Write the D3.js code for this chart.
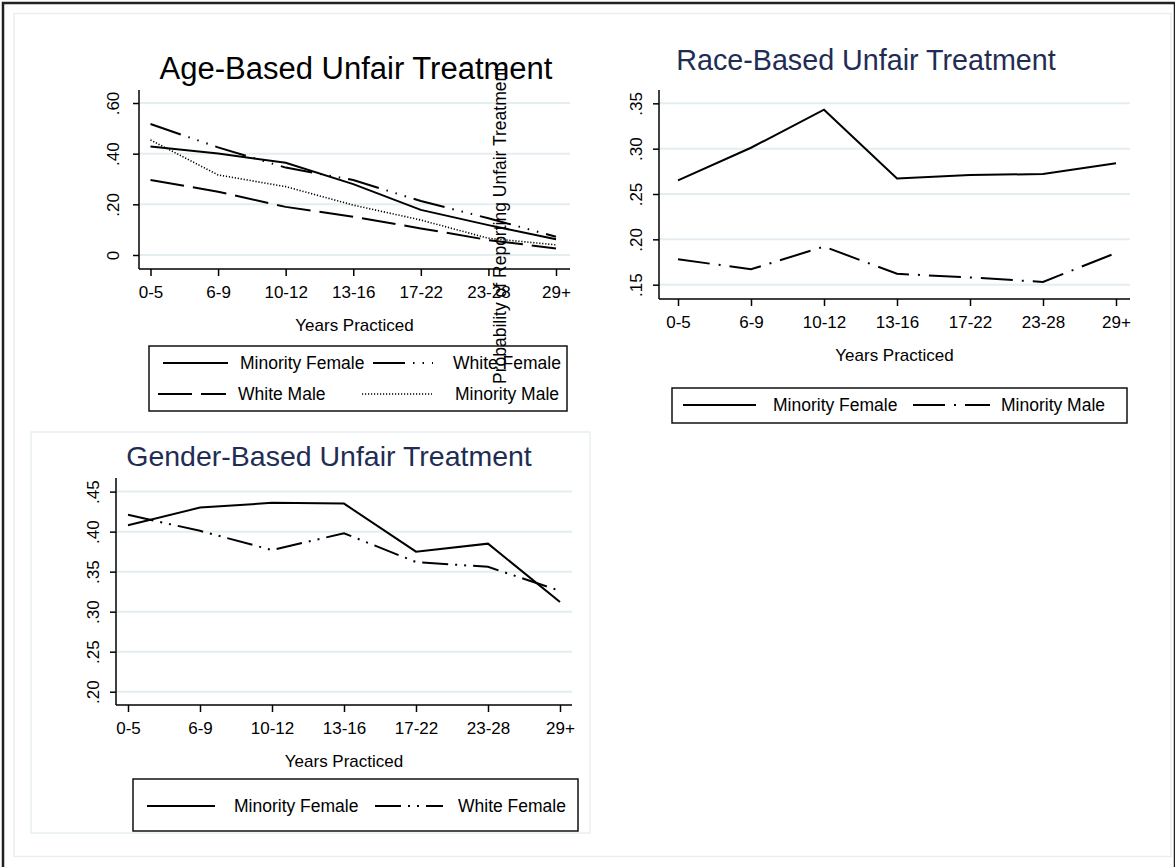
<!DOCTYPE html>
<html>
<head>
<meta charset="utf-8">
<script src="https://cdn.jsdelivr.net/npm/d3@7"></script>
<style>
  body { margin: 0; background: #fff; }
  svg { display: block; }
</style>
</head>
<body>
<div id="chart"></div>
<script>
// categories / tick labels
const years = ['0-5', '6-9', '10-12', '13-16', '17-22', '23-28', '29+'];

// age-based series
const ageMinorityFemale = [0.428, 0.401, 0.364, 0.280, 0.178, 0.118, 0.062];
const ageWhiteFemale    = [0.517, 0.425, 0.345, 0.296, 0.213, 0.145, 0.072];
const ageWhiteMale      = [0.296, 0.250, 0.190, 0.151, 0.105, 0.059, 0.026];
const ageMinorityMale   = [0.454, 0.316, 0.270, 0.197, 0.138, 0.066, 0.040];
const ageTicks = [0, 0.2, 0.4, 0.6];
const ageTickLabels = ['0', '.20', '.40', '.60'];

// race-based series
const raceMinorityFemale = [0.265, 0.301, 0.343, 0.267, 0.271, 0.272, 0.284];
const raceMinorityMale   = [0.178, 0.167, 0.192, 0.162, 0.158, 0.153, 0.185];
const raceTicks = [0.15, 0.20, 0.25, 0.30, 0.35];
const raceTickLabels = ['.15', '.20', '.25', '.30', '.35'];

// gender-based series
const genderMinorityFemale = [0.408, 0.430, 0.436, 0.435, 0.375, 0.385, 0.312];
const genderWhiteFemale    = [0.421, 0.401, 0.377, 0.398, 0.362, 0.356, 0.326];
const genderTicks = [0.20, 0.25, 0.30, 0.35, 0.40, 0.45];
const genderTickLabels = ['.20', '.25', '.30', '.35', '.40', '.45'];

const width = 1175;
const height = 867;
const fontFamily = '"Liberation Sans", Arial, Helvetica, sans-serif';
const gridColor = '#e4edf0';
const navy = '#1f2d55';
const lineColor = '#000';

const dashes = {
  solid: null,
  longdash: '34,9',
  longdashdot: '32,9,2,9',
  longdash3dot: '32,8,1.5,8,1.5,8,1.5,8',
  dot: '1.2,1.8',
  dashdotdot: '26,7,2,7,2,7'
};

const svg = d3.select('#chart')
  .append('svg')
    .attr('width', width)
    .attr('height', height);

// outer frame
svg.append('rect')
  .attr('x', 3).attr('y', 3)
  .attr('width', 1172).attr('height', 880)
  .attr('fill', 'none')
  .attr('stroke', '#222')
  .attr('stroke-width', 2.5);

svg.append('rect')
  .attr('x', 14).attr('y', 13.5)
  .attr('width', 1157).attr('height', 843)
  .attr('fill', 'none')
  .attr('stroke', '#e8eff1')
  .attr('stroke-width', 1.5);

// gender sub-panel frame
svg.append('rect')
  .attr('x', 31).attr('y', 432)
  .attr('width', 559).attr('height', 401)
  .attr('fill', 'none')
  .attr('stroke', '#e8eff1')
  .attr('stroke-width', 1.5);

const drawPanel = (cfg) => {
  const x = d3.scalePoint().domain(years).range(cfg.xRange);
  const y = d3.scaleLinear().domain(cfg.yDomain).range([cfg.bottom, cfg.top]);
  const g = svg.append('g');

  // grid
  g.selectAll('.grid')
    .data(cfg.ticks)
    .join('line')
      .attr('x1', cfg.left).attr('x2', cfg.right)
      .attr('y1', d => y(d)).attr('y2', d => y(d))
      .attr('stroke', gridColor)
      .attr('stroke-width', 2);

  // y axis
  const yAxis = g.append('g')
    .attr('transform', `translate(${cfg.left},0)`)
    .call(d3.axisLeft(y).tickValues(cfg.ticks).tickSize(6).tickPadding(0)
      .tickFormat((d, i) => cfg.tickLabels[i]));
  yAxis.select('.domain').attr('d', `M0,${cfg.top}V${cfg.bottom}`).attr('stroke-width', 1.5);
  yAxis.selectAll('.tick line').attr('stroke-width', 1.5);
  yAxis.selectAll('.tick text')
    .attr('x', 0).attr('dy', 0)
    .attr('transform', `translate(${cfg.yLabelOffset},0) rotate(-90)`)
    .attr('text-anchor', 'middle')
    .style('font', `17px ${fontFamily}`)
    .attr('fill', '#000');

  // x axis
  const xAxis = g.append('g')
    .attr('transform', `translate(0,${cfg.bottom})`)
    .call(d3.axisBottom(x).tickSize(7).tickPadding(0));
  xAxis.select('.domain').attr('d', `M${cfg.left},0H${cfg.right}`).attr('stroke-width', 1.5);
  xAxis.selectAll('.tick line').attr('stroke-width', 1.5);
  xAxis.selectAll('.tick text')
    .attr('y', 29).attr('dy', 0)
    .style('font', `17px ${fontFamily}`)
    .attr('fill', '#000');

  g.append('text')
    .attr('x', (cfg.left + cfg.right) / 2)
    .attr('y', cfg.bottom + 62)
    .attr('text-anchor', 'middle')
    .style('font', `17px ${fontFamily}`)
    .text('Years Practiced');

  // title
  g.append('text')
    .attr('x', cfg.titleX)
    .attr('y', cfg.titleY)
    .attr('text-anchor', 'middle')
    .style('font', `${cfg.titleSize}px ${fontFamily}`)
    .attr('fill', cfg.titleColor)
    .text(cfg.title);

  // series
  const line = d3.line()
    .x((d, i) => x(years[i]))
    .y(d => y(d));

  cfg.series.forEach(s => {
    g.append('path')
      .datum(s.values)
      .attr('d', line)
      .attr('fill', 'none')
      .attr('stroke', lineColor)
      .attr('stroke-width', s.dash === 'dot' ? 1.6 : 2)
      .attr('stroke-dasharray', dashes[s.dash]);
  });

  // legend
  const lb = cfg.legend.box;
  g.append('rect')
    .attr('x', lb[0]).attr('y', lb[1])
    .attr('width', lb[2] - lb[0]).attr('height', lb[3] - lb[1])
    .attr('fill', '#fff')
    .attr('stroke', '#111')
    .attr('stroke-width', 1.5);

  cfg.legend.items.forEach((it, i) => {
    const s = cfg.series[i];
    g.append('line')
      .attr('x1', it.x1).attr('x2', it.x2)
      .attr('y1', it.y).attr('y2', it.y)
      .attr('stroke', lineColor)
      .attr('stroke-width', s.dash === 'dot' ? 1.6 : 2)
      .attr('stroke-dasharray', dashes[s.dash]);
    g.append('text')
      .attr('x', it.tx)
      .attr('y', it.y + 6)
      .style('font', `17.5px ${fontFamily}`)
      .text(s.name);
  });
};

// Age panel
drawPanel({
  title: 'Age-Based Unfair Treatment',
  titleX: 356, titleY: 79, titleSize: 31, titleColor: '#000',
  left: 139, right: 570, top: 90, bottom: 269,
  xRange: [150.5, 556],
  yDomain: [-0.0553, 0.6514],
  ticks: ageTicks, tickLabels: ageTickLabels, yLabelOffset: -20,
  series: [
    {name: 'Minority Female', values: ageMinorityFemale, dash: 'solid'},
    {name: 'White Female', values: ageWhiteFemale, dash: 'longdash3dot'},
    {name: 'White Male', values: ageWhiteMale, dash: 'longdash'},
    {name: 'Minority Male', values: ageMinorityMale, dash: 'dot'}
  ],
  legend: {
    box: [149, 346, 567, 411],
    items: [
      {x1: 163, x2: 228, y: 363, tx: 240},
      {x1: 373, x2: 433, y: 363, tx: 453},
      {x1: 158, x2: 226, y: 394, tx: 238},
      {x1: 362, x2: 432, y: 394, tx: 455}
    ]
  }
});

// stray y-axis title that overlaps the age panel in the original
svg.append('text')
  .attr('transform', 'translate(506,384) rotate(-90)')
  .style('font', `17.5px ${fontFamily}`)
  .text('Probability of Reporting Unfair Treatment');

// Race panel
drawPanel({
  title: 'Race-Based Unfair Treatment',
  titleX: 866, titleY: 70, titleSize: 28.7, titleColor: navy,
  left: 659, right: 1130, top: 90, bottom: 299,
  xRange: [678, 1116],
  yDomain: [0.1342, 0.3647],
  ticks: raceTicks, tickLabels: raceTickLabels, yLabelOffset: -17,
  series: [
    {name: 'Minority Female', values: raceMinorityFemale, dash: 'solid'},
    {name: 'Minority Male', values: raceMinorityMale, dash: 'longdashdot'}
  ],
  legend: {
    box: [672, 388, 1127, 423],
    items: [
      {x1: 683, x2: 756, y: 405, tx: 773},
      {x1: 913, x2: 990, y: 405, tx: 1001}
    ]
  }
});

// Gender panel
drawPanel({
  title: 'Gender-Based Unfair Treatment',
  titleX: 329, titleY: 466, titleSize: 28.5, titleColor: navy,
  left: 116, right: 572, top: 478, bottom: 705,
  xRange: [128, 560],
  yDomain: [0.1834, 0.467],
  ticks: genderTicks, tickLabels: genderTickLabels, yLabelOffset: -17,
  series: [
    {name: 'Minority Female', values: genderMinorityFemale, dash: 'solid'},
    {name: 'White Female', values: genderWhiteFemale, dash: 'dashdotdot'}
  ],
  legend: {
    box: [133, 779, 578, 831],
    items: [
      {x1: 147, x2: 215, y: 806, tx: 234},
      {x1: 375, x2: 443, y: 806, tx: 458}
    ]
  }
});
</script>
</body>
</html>
